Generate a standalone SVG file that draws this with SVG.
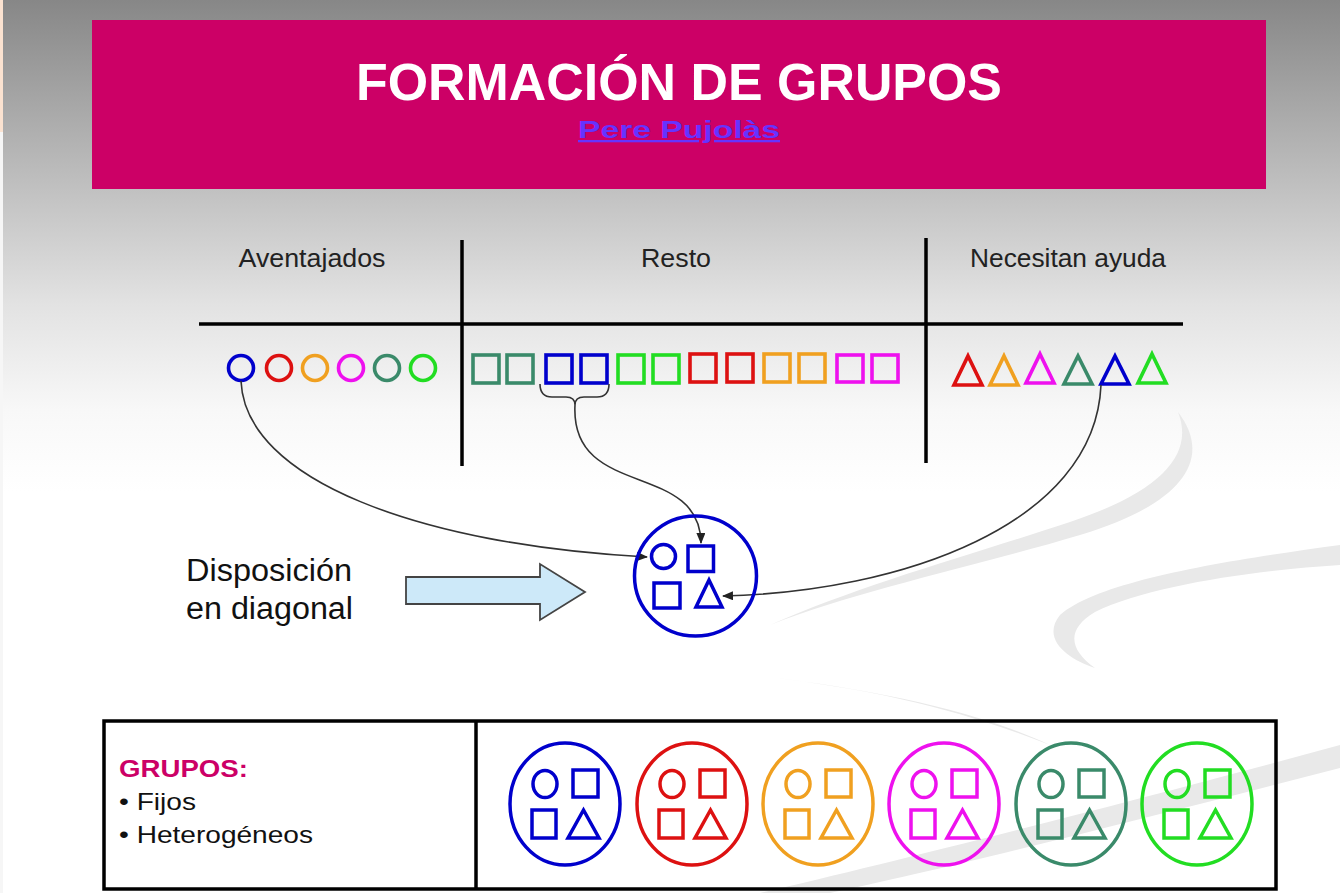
<svg xmlns="http://www.w3.org/2000/svg" xmlns:xlink="http://www.w3.org/1999/xlink" width="1340" height="893" viewBox="0 0 1340 893">
<defs>
<linearGradient id="bg" x1="0" y1="0" x2="0" y2="1">
<stop offset="0" stop-color="#878787"/>
<stop offset="0.22" stop-color="#c3c3c3"/>
<stop offset="0.34" stop-color="#e2e2e2"/>
<stop offset="0.46" stop-color="#f8f8f8"/>
<stop offset="0.55" stop-color="#ffffff"/>
</linearGradient>
<marker id="ah" markerWidth="11" markerHeight="9" refX="10" refY="4.5" orient="auto" markerUnits="userSpaceOnUse">
<path d="M0,0 L11,4.5 L0,9 z" fill="#222"/>
</marker>
<g id="grpShapes" fill="none" stroke="currentColor" stroke-width="3.5">
<ellipse cx="-20" cy="-20" rx="12" ry="13.5"/>
<rect x="8" y="-34" width="25" height="27"/>
<rect x="-33" y="6" width="24" height="28"/>
<path d="M18.5,6 L34,34 L3,34 Z" stroke-linejoin="miter"/>
</g>
</defs>
<style>
.hdr{font-family:"Liberation Sans",Arial,sans-serif;font-size:25px;fill:#222}
.line{stroke:#000;stroke-width:3.5}
.sh{fill:none;stroke-width:3.6}
.conn{fill:none;stroke:#333;stroke-width:1.6}
.body{font-family:"Liberation Sans",Arial,sans-serif;fill:#111}
</style>
<rect x="0" y="0" width="1340" height="893" fill="url(#bg)"/>
<rect x="0" y="0" width="3" height="132" fill="#fbe2d0"/>
<rect x="0" y="132" width="3" height="761" fill="#f6f6f6"/>
<g id="swooshes" fill="#e9e9e9" stroke="none">
<path d="M1178,412 C1215,460 1180,505 1080,535 C980,565 860,590 770,625 C860,585 980,552 1070,522 C1160,492 1195,455 1178,412 Z"/>
<path d="M1340,545 C1230,560 1100,580 1060,615 C1040,640 1070,660 1095,668 C1070,650 1065,630 1095,612 C1150,585 1260,570 1340,565 Z"/>
<path d="M760,676 C880,690 960,710 1050,745 C980,712 880,690 760,676 Z"/>
<path d="M760,893 C900,860 1120,805 1340,745 L1340,768 C1140,820 940,870 830,893 Z"/>
</g>
<g id="title">
<rect x="92" y="20" width="1174" height="169" fill="#cc0066"/>
<text x="679" y="100" text-anchor="middle" font-family="Liberation Sans, Arial, sans-serif" font-weight="bold" font-size="52" fill="#ffffff" textLength="646" lengthAdjust="spacingAndGlyphs">FORMACIÓN DE GRUPOS</text>
<text x="679" y="138" text-anchor="middle" font-family="Liberation Sans, Arial, sans-serif" font-weight="bold" font-size="23" fill="#6633ff" text-decoration="underline" textLength="202" lengthAdjust="spacingAndGlyphs">Pere Pujolàs</text>
</g>
<g id="table">
<line class="line" x1="199" y1="324" x2="1183" y2="324"/>
<line class="line" x1="462" y1="240" x2="462" y2="466"/>
<line class="line" x1="926" y1="238" x2="926" y2="463"/>
<text class="hdr" x="312" y="267" text-anchor="middle" textLength="147" lengthAdjust="spacingAndGlyphs">Aventajados</text>
<text class="hdr" x="676" y="267" text-anchor="middle" textLength="70" lengthAdjust="spacingAndGlyphs">Resto</text>
<text class="hdr" x="1068" y="267" text-anchor="middle" textLength="196" lengthAdjust="spacingAndGlyphs">Necesitan ayuda</text>
</g>
<g id="aventajados" class="sh">
<circle cx="241" cy="368" r="12.5" stroke="#0000cc"/>
<circle cx="279" cy="368" r="12.5" stroke="#dd1111"/>
<circle cx="315" cy="368" r="12.5" stroke="#f0a020"/>
<circle cx="351" cy="368" r="12.5" stroke="#ee11ee"/>
<circle cx="387" cy="368" r="12.5" stroke="#3a8a6a"/>
<circle cx="423" cy="368" r="12.5" stroke="#22dd22"/>
</g>
<g id="resto" class="sh">
<rect x="473" y="355" width="26" height="28" stroke="#3a8a6a"/>
<rect x="507" y="355" width="26" height="28" stroke="#3a8a6a"/>
<rect x="546" y="355" width="26" height="28" stroke="#0000cc"/>
<rect x="581" y="355" width="26" height="28" stroke="#0000cc"/>
<rect x="618" y="355" width="26" height="28" stroke="#22dd22"/>
<rect x="653" y="355" width="26" height="28" stroke="#22dd22"/>
<rect x="690" y="354" width="26" height="28" stroke="#dd1111"/>
<rect x="727" y="354" width="26" height="28" stroke="#dd1111"/>
<rect x="764" y="354" width="26" height="28" stroke="#f0a020"/>
<rect x="799" y="354" width="26" height="28" stroke="#f0a020"/>
<rect x="837" y="355" width="26" height="27" stroke="#ee11ee"/>
<rect x="872" y="355" width="26" height="27" stroke="#ee11ee"/>
</g>
<g id="necesitan" class="sh" stroke-linejoin="miter">
<path d="M968,356 L982,385 L954,385 Z" stroke="#dd1111"/>
<path d="M1004,356 L1018,385 L990,385 Z" stroke="#f0a020"/>
<path d="M1040,354 L1054,383 L1026,383 Z" stroke="#ee11ee"/>
<path d="M1078,356 L1092,384 L1064,384 Z" stroke="#3a8a6a"/>
<path d="M1115,356 L1129,384 L1101,384 Z" stroke="#0000cc"/>
<path d="M1152,354 L1166,383 L1138,383 Z" stroke="#22dd22"/>
</g>
<g id="connectors">
<path class="conn" d="M540,384 Q540,397 552,397 L566,397 Q575,397 575,405 Q575,397 584,397 L597,397 Q609,397 609,384"/>
<path class="conn" d="M241,381 C245,480 420,545 647,557" marker-end="url(#ah)"/>
<path class="conn" d="M575,405 C570,500 700,460 701,543" marker-end="url(#ah)"/>
<path class="conn" d="M1101,385 C1095,525 900,592 723,596" marker-end="url(#ah)"/>
</g>
<g id="flecha">
<path d="M406,577 L540,577 L540,564 L585,592 L540,620 L540,604 L406,604 Z" fill="#cde9f9" stroke="#444" stroke-width="1.8"/>
</g>
<g id="disposicion">
<text class="body" x="186" y="581" font-size="31" textLength="166" lengthAdjust="spacingAndGlyphs">Disposición</text>
<text class="body" x="186" y="619" font-size="31" textLength="167" lengthAdjust="spacingAndGlyphs">en diagonal</text>
</g>
<g id="grupo-diagonal" fill="none" stroke="#0000cc" stroke-width="3.5">
<ellipse cx="695.5" cy="576" rx="61" ry="60"/>
<circle cx="663.5" cy="556.5" r="12"/>
<rect x="688" y="546" width="25.5" height="25.5"/>
<rect x="654" y="583" width="26" height="25"/>
<path d="M709,580 L722,607 L696,607 Z"/>
</g>
<g id="grupos-box">
<rect x="104" y="721" width="1172" height="168" fill="none" stroke="#000" stroke-width="3.5"/>
<line class="line" x1="476" y1="721" x2="476" y2="889"/>
<text x="119" y="777" font-family="Liberation Sans, Arial, sans-serif" font-weight="bold" font-size="24" fill="#cc0066" textLength="129" lengthAdjust="spacingAndGlyphs">GRUPOS:</text>
<text class="body" x="119" y="810" font-size="24" textLength="77" lengthAdjust="spacingAndGlyphs">• Fijos</text>
<text class="body" x="119" y="843" font-size="24" textLength="194" lengthAdjust="spacingAndGlyphs">• Heterogéneos</text>
</g>
<g id="grupo-azul" transform="translate(565,804)" color="#0000cc">
<ellipse cx="0" cy="0" rx="55" ry="61" fill="none" stroke="currentColor" stroke-width="3.5"/>
<use xlink:href="#grpShapes"/>
</g>
<g id="grupo-rojo" transform="translate(692,804)" color="#dd1111">
<ellipse cx="0" cy="0" rx="55" ry="61" fill="none" stroke="currentColor" stroke-width="3.5"/>
<use xlink:href="#grpShapes"/>
</g>
<g id="grupo-naranja" transform="translate(818,804)" color="#f0a020">
<ellipse cx="0" cy="0" rx="55" ry="61" fill="none" stroke="currentColor" stroke-width="3.5"/>
<use xlink:href="#grpShapes"/>
</g>
<g id="grupo-magenta" transform="translate(944,804)" color="#ee11ee">
<ellipse cx="0" cy="0" rx="55" ry="61" fill="none" stroke="currentColor" stroke-width="3.5"/>
<use xlink:href="#grpShapes"/>
</g>
<g id="grupo-verde-oscuro" transform="translate(1071,804)" color="#3a8a6a">
<ellipse cx="0" cy="0" rx="55" ry="61" fill="none" stroke="currentColor" stroke-width="3.5"/>
<use xlink:href="#grpShapes"/>
</g>
<g id="grupo-verde" transform="translate(1197,804)" color="#22dd22">
<ellipse cx="0" cy="0" rx="55" ry="61" fill="none" stroke="currentColor" stroke-width="3.5"/>
<use xlink:href="#grpShapes"/>
</g>
</svg>
